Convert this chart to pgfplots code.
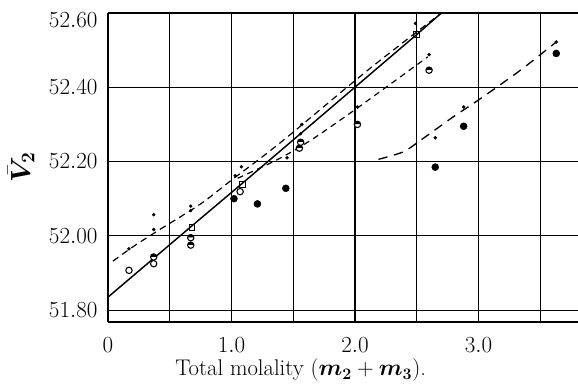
\documentclass[border=0pt]{standalone}
\usepackage{pgfplots}
\pgfplotsset{compat=1.18}
\usepackage{bm}
\usetikzlibrary{calc,plotmarks}
\begin{document}
\fontsize{17}{20}\selectfont
\begin{tikzpicture}
\begin{axis}[
  scale only axis, width=352.5pt, height=231.75pt,
  xmin=0, xmax=3.806, ymin=51.768, ymax=52.60,
  axis x line=bottom, axis y line=left,
  axis line style={-, line width=1pt},
  xtick={0,1,2,3}, xticklabels={$0$,$1.0$,$2.0$,$3.0$},
  minor xtick={0.5,1.5,2.5,3.5},
  ytick={51.8,52.0,52.2,52.4},
  yticklabels={$51.80$,$52.00$,$52.20$,$52.40$},
  extra y ticks={52.6}, extra y tick labels={$52.60$},
  extra y tick style={yticklabel style={yshift=-5pt}},
  major tick length=0pt, minor tick length=0pt,
  grid=both,
  major grid style={black, line width=0.8pt},
  minor grid style={black, line width=0.7pt},
  every tick label/.append style={font=\fontsize{17}{20}\selectfont},
  xticklabel style={anchor=center, yshift=-17pt},
  yticklabel style={anchor=east, xshift=-2pt},
  xlabel={Total molality ($\bm{m}_{\bm 2}+\bm{m}_{\bm 3}$).},
  ylabel={$\bar{\bm{V}}_{\bm 2}$},
  every axis x label/.style={at={(axis description cs:0.41,-0.155)}, anchor=center, font=\fontsize{17}{20}\selectfont},
  every axis y label/.style={at={(axis description cs:-0.185,0.5)}, anchor=center, rotate=90, font=\fontsize{20}{24}\selectfont},
  clip=true,
]
% solid line
\addplot[black, line width=1.1pt] coordinates {(0,51.835)(0.68,52.027)(1.09,52.142)(2.5,52.542)(2.70,52.60)};
% upper dashed
\addplot[black, line width=0.9pt, dash pattern=on 5pt off 3.5pt, smooth] coordinates {
(0.04,51.932)(0.2,51.970)(0.4,52.013)(0.75,52.086)(1.0,52.150)(1.4,52.252)(2.1,52.445)(2.70,52.60)};
% lower dashed
\addplot[black, line width=0.9pt, dash pattern=on 4.5pt off 3.5pt, smooth] coordinates {
(1.05,52.155)(1.37,52.205)(1.64,52.257)(2.01,52.342)(2.59,52.482)};
% long dashed
\addplot[black, line width=1pt, dash pattern=on 7pt off 5pt, smooth, tension=0.5] coordinates {
(2.19,52.206)(2.39,52.226)(2.53,52.257)(2.79,52.319)(3.01,52.368)(3.34,52.446)(3.63,52.522)};
% small dots
\addplot[only marks, mark=*, mark size=1.1pt, black] coordinates {
(0.17,51.965)(0.37,52.057)(0.37,52.017)(0.67,52.08)(0.67,52.068)(1.03,52.162)(1.08,52.186)
(1.45,52.21)(1.57,52.30)(1.56,52.275)(2.02,52.347)(2.49,52.572)(2.60,52.488)(2.65,52.264)
(2.88,52.347)(3.63,52.522)};
% open circles
\addplot[only marks, mark=o, mark size=2.4pt, black, mark options={line width=0.8pt, fill=white}] coordinates {
(0.17,51.907)(0.37,51.925)(1.07,52.119)};
% half-filled circles
\addplot[only marks, mark=halfcircle*, mark size=2.4pt, black, mark options={line width=0.8pt, fill=black}] coordinates {
(0.37,51.943)(0.67,51.995)(0.67,51.975)(1.55,52.236)(1.56,52.252)(2.60,52.446)(2.02,52.30)};
% squares
\addplot[only marks, mark=square, mark size=2.2pt, black, mark options={line width=0.8pt, fill=white}] coordinates {
(0.68,52.022)(1.09,52.138)(2.50,52.542)};
% filled circles
\addplot[only marks, mark=*, mark size=2.6pt, black] coordinates {
(1.02,52.10)(1.21,52.086)(1.44,52.128)(2.65,52.185)(2.88,52.295)(3.63,52.491)};
\end{axis}
\pgfresetboundingbox
\path ($(current axis.south west)+(-81pt,-45.75pt)$) rectangle ($(current axis.north east)+(0pt,9.75pt)$);
\end{tikzpicture}
\end{document}
